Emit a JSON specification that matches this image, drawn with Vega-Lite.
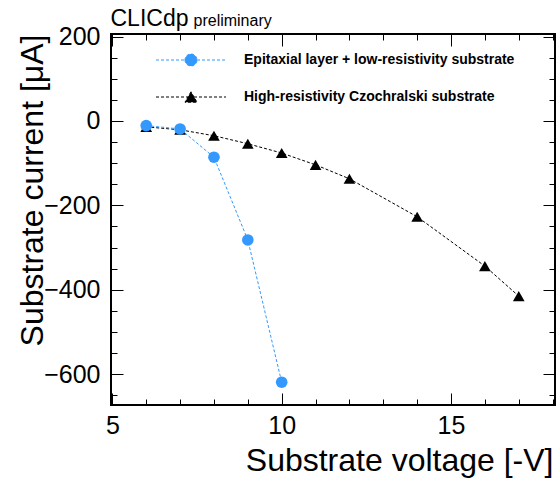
{
  "$schema": "https://vega.github.io/schema/vega-lite/v6.json",
  "width": 444,
  "height": 371,
  "autosize": {"type": "none"},
  "padding": {"left": 111, "top": 34, "right": 4, "bottom": 73},
  "background": "white",
  "config": {
    "font": "Liberation Sans",
    "view": {"stroke": "black", "strokeWidth": 2},
    "axis": {
      "domain": false,
      "grid": false,
      "tickColor": "black",
      "tickWidth": 1,
      "labelColor": "black",
      "titleColor": "black",
      "labelFont": "Liberation Sans",
      "titleFont": "Liberation Sans",
      "titleFontWeight": "normal",
      "labelFontSize": 25,
      "labelFlush": false,
      "labelOverlap": false
    },
    "legend": {
      "orient": "none",
      "legendX": 73,
      "legendY": 19,
      "title": null,
      "padding": 0,
      "symbolSize": 144,
      "labelFont": "Liberation Sans",
      "labelFontSize": 14,
      "labelFontWeight": "bold",
      "labelColor": "black",
      "labelLimit": 500,
      "labelOffset": 46,
      "rowPadding": 21,
      "symbolStrokeWidth": 1
    }
  },
  "data": {
    "values": [
      {"series": "High-resistivity Czochralski substrate", "voltage": 6, "current": -14},
      {"series": "High-resistivity Czochralski substrate", "voltage": 7, "current": -21},
      {"series": "High-resistivity Czochralski substrate", "voltage": 8, "current": -35},
      {"series": "High-resistivity Czochralski substrate", "voltage": 9, "current": -54},
      {"series": "High-resistivity Czochralski substrate", "voltage": 10, "current": -76},
      {"series": "High-resistivity Czochralski substrate", "voltage": 11, "current": -104},
      {"series": "High-resistivity Czochralski substrate", "voltage": 12, "current": -137},
      {"series": "High-resistivity Czochralski substrate", "voltage": 14, "current": -227},
      {"series": "High-resistivity Czochralski substrate", "voltage": 16, "current": -344},
      {"series": "High-resistivity Czochralski substrate", "voltage": 17, "current": -415},
      {"series": "Epitaxial layer + low-resistivity substrate", "voltage": 6, "current": -11},
      {"series": "Epitaxial layer + low-resistivity substrate", "voltage": 7, "current": -19},
      {"series": "Epitaxial layer + low-resistivity substrate", "voltage": 8, "current": -86},
      {"series": "Epitaxial layer + low-resistivity substrate", "voltage": 9, "current": -282},
      {"series": "Epitaxial layer + low-resistivity substrate", "voltage": 10, "current": -619}
    ]
  },
  "layer": [
    {
      "mark": {"type": "line", "strokeDash": [3, 2], "strokeWidth": 1},
      "encoding": {
        "x": {
          "field": "voltage", "type": "quantitative",
          "scale": {"domain": [4.96, 18.07], "nice": false, "zero": false},
          "axis": {
            "orient": "bottom",
            "values": [5, 6, 7, 8, 9, 10, 11, 12, 13, 14, 15, 16, 17, 18],
            "tickSize": {"condition": {"test": "datum.value % 5 === 0", "value": -12}, "value": -6},
            "labelExpr": "datum.value % 5 === 0 ? datum.label : ''",
            "labelPadding": 20,
            "title": "Substrate voltage [-V]",
            "titleFontSize": 32,
            "titleAnchor": "end",
            "titleAlign": "right",
            "titleBaseline": "alphabetic",
            "titleAngle": 0,
            "titleX": 442,
            "titleY": 65
          }
        },
        "y": {
          "field": "current", "type": "quantitative",
          "scale": {"domain": [-673, 206], "nice": false, "zero": false},
          "axis": {
            "orient": "left",
            "values": [-650, -600, -550, -500, -450, -400, -350, -300, -250, -200, -150, -100, -50, 0, 50, 100, 150, 200],
            "tickSize": {"condition": {"test": "datum.value % 200 === 0", "value": -12}, "value": -6},
            "labelExpr": "datum.value % 200 === 0 ? datum.label : ''",
            "labelPadding": 23,
            "title": "Substrate current [μA]",
            "titleFontSize": 32,
            "titleAnchor": "end",
            "titleAlign": "right",
            "titleBaseline": "alphabetic",
            "titleAngle": -90,
            "titleX": -69,
            "titleY": 0
          }
        },
        "color": {
          "field": "series", "type": "nominal",
          "scale": {"domain": ["Epitaxial layer + low-resistivity substrate", "High-resistivity Czochralski substrate"], "range": ["#3399ff", "#000000"]},
          "legend": null
        },
        "detail": {"field": "series"}
      }
    },
    {
      "mark": {"type": "point", "filled": true, "size": 136, "opacity": 1},
      "encoding": {
        "x": {
          "field": "voltage", "type": "quantitative",
          "axis": {
            "orient": "top",
            "values": [5, 6, 7, 8, 9, 10, 11, 12, 13, 14, 15, 16, 17, 18],
            "tickSize": {"condition": {"test": "datum.value % 5 === 0", "value": -12}, "value": -6},
            "labels": false,
            "title": "CLICdp",
            "titleFontSize": 23,
            "titleAnchor": "start",
            "titleAlign": "left",
            "titleBaseline": "alphabetic",
            "titleAngle": 0,
            "titleX": -1,
            "titleY": -9
          }
        },
        "y": {
          "field": "current", "type": "quantitative",
          "axis": {
            "orient": "right",
            "values": [-650, -600, -550, -500, -450, -400, -350, -300, -250, -200, -150, -100, -50, 0, 50, 100, 150, 200],
            "tickSize": {"condition": {"test": "datum.value % 200 === 0", "value": -12}, "value": -6},
            "labels": false,
            "title": "preliminary",
            "titleFontSize": 16,
            "titleAnchor": "start",
            "titleAlign": "left",
            "titleBaseline": "alphabetic",
            "titleAngle": 0,
            "titleX": -362,
            "titleY": -9
          }
        },
        "color": {
          "field": "series", "type": "nominal",
          "legend": {
            "encoding": {
              "symbols": {
                "shape": {"condition": {"test": "datum.value === 'Epitaxial layer + low-resistivity substrate'", "value": "M-5.833,0L-1,0M1,0L5.833,0M-1,0A1,1,0,1,0,1,0A1,1,0,1,0,-1,0Z"}, "value": "M-5.833,0L-0.5,0M0.5,0L5.833,0M0,-0.866L-1,0.866L1,0.866Z"},
                "fill": {"condition": {"test": "datum.value === 'Epitaxial layer + low-resistivity substrate'", "value": "#3399ff"}, "value": "#000000"},
                "stroke": {"condition": {"test": "datum.value === 'Epitaxial layer + low-resistivity substrate'", "value": "#3399ff"}, "value": "#000000"},
                "strokeDash": {"value": [3, 2]},
                "strokeWidth": {"value": 1},
                "opacity": {"value": 1}
              }
            }
          }
        },
        "shape": {
          "field": "series", "type": "nominal",
          "scale": {"domain": ["Epitaxial layer + low-resistivity substrate", "High-resistivity Czochralski substrate"], "range": ["circle", "triangle-up"]},
          "legend": null
        }
      }
    }
  ],
  "resolve": {"axis": {"x": "independent", "y": "independent"}, "legend": {"color": "independent"}}
}
